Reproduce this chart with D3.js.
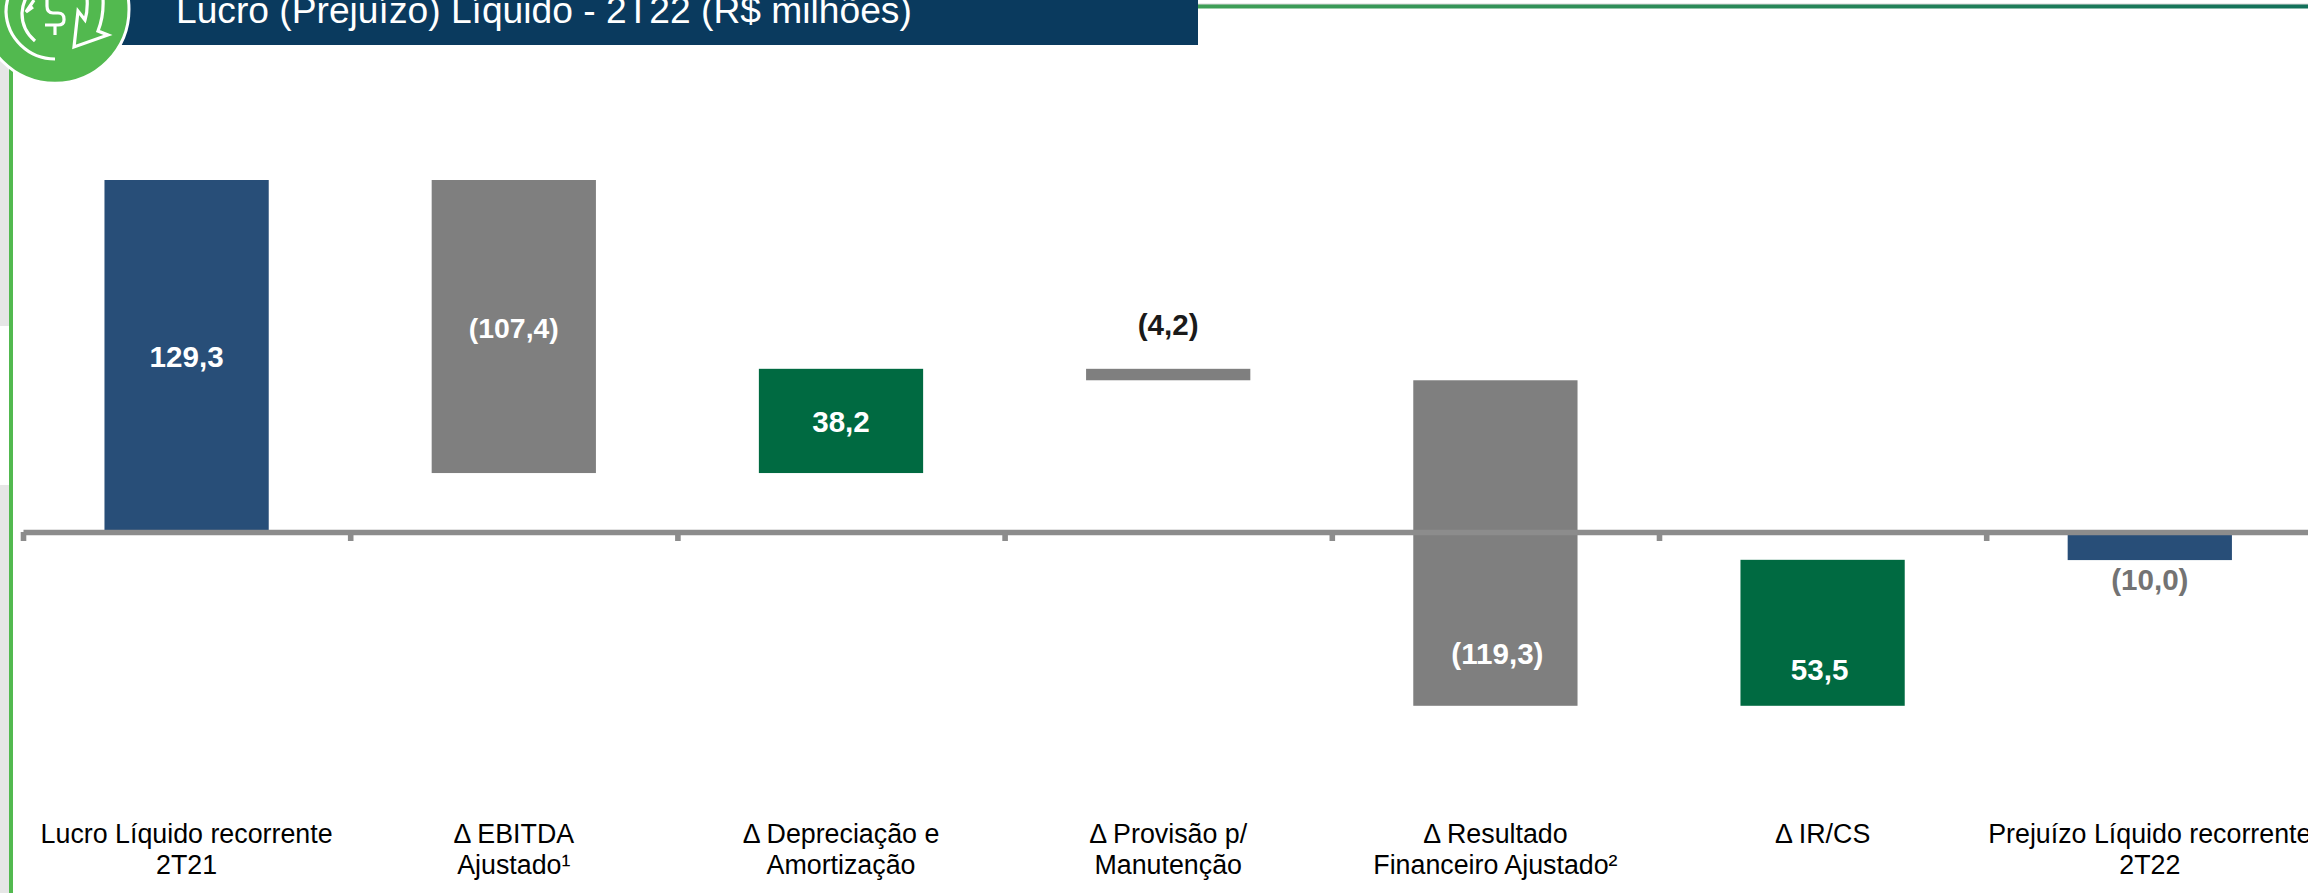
<!DOCTYPE html>
<html>
<head>
<meta charset="utf-8">
<script src="https://cdn.jsdelivr.net/npm/d3@7"></script>
<style>
  html, body { margin: 0; padding: 0; background: #fff; overflow: hidden; }
  svg { display: block; font-family: "Liberation Sans", Arial, sans-serif; }
</style>
</head>
<body>
<div id="chart"></div>
<script>
const titleText = "Lucro (Prejuízo) Líquido - 2T22 (R$ milhões)";

// two lines per category label
const categories = [
    ["Lucro Líquido recorrente", "2T21"],
    ["Δ EBITDA", "Ajustado¹"],
    ["Δ Depreciação e", "Amortização"],
    ["Δ Provisão p/", "Manutenção"],
    ["Δ Resultado", "Financeiro Ajustado²"],
    ["Δ IR/CS", ""],
    ["Prejuízo Líquido recorrente", "2T22"]
];
const deltas = [129.3, -107.4, 38.2, -4.2, -119.3, 53.5, -10.0];
const valueLabels = ["129,3", "(107,4)", "38,2", "(4,2)", "(119,3)", "53,5", "(10,0)"];
const kinds = ["total", "down", "up", "down", "down", "up", "total"];

const width = 2308;
const height = 893;
const colors = { total: "#284e78", down: "#7f7f7f", up: "#006a41" };

// running total for the floating bars, first and last start from zero
let running = 0;
const bars = deltas.map((d, i) => {
    const start = kinds[i] === "total" ? 0 : running;
    const end = start + d;
    running = end;
    return { i, low: Math.min(start, end), high: Math.max(start, end), label: valueLabels[i], kind: kinds[i] };
});

const svg = d3.select("#chart").append("svg")
    .attr("width", width)
    .attr("height", height);

const x = d3.scaleBand()
    .domain(d3.range(categories.length))
    .range([23, 23 + 327.2 * 7])
    .paddingInner(0.498)
    .paddingOuter(0.249);

const y = d3.scaleLinear()
    .domain([0, 129.3])
    .range([532.8, 180]);

// page frame
svg.append("rect").attr("x", 0).attr("y", 60).attr("width", 9).attr("height", 266).attr("fill", "#e6e6e6");
svg.append("rect").attr("x", 0).attr("y", 485).attr("width", 9).attr("height", height - 485).attr("fill", "#e6e6e6");
svg.append("rect").attr("x", 9).attr("y", 60).attr("width", 4).attr("height", height - 60).attr("fill", "#52b94f");

const lineGrad = svg.append("defs").append("linearGradient").attr("id", "topLine");
lineGrad.append("stop").attr("offset", "0%").attr("stop-color", "#3f9f57");
lineGrad.append("stop").attr("offset", "100%").attr("stop-color", "#12705a");
svg.append("rect").attr("x", 1198).attr("y", 3.5).attr("width", width - 1198).attr("height", 1.5).attr("fill", "#d9d9d9");
svg.append("rect").attr("x", 1198).attr("y", 4.5).attr("width", width - 1198).attr("height", 4).attr("fill", "url(#topLine)");

svg.append("rect").attr("x", 120).attr("y", 0).attr("width", 1078).attr("height", 45).attr("fill", "#0a3a5e");
svg.append("text")
    .attr("x", 176).attr("y", 23)
    .attr("font-size", 37.2)
    .attr("fill", "#fff")
    .text(titleText);

// icon, arrows and dollar sign as plain strokes
const icon = svg.append("g");
icon.append("circle").attr("cx", 55).attr("cy", 9.2).attr("r", 74).attr("fill", "#52b94f").attr("stroke", "#fff").attr("stroke-width", 3);
const iconPaths = [
    "M55,59 A49,49 0 0 1 6,12 A49,49 0 0 1 8,-2",
    "M35,41 A36,36 0 0 1 22,13 A36,36 0 0 1 26,-2",
    "M34,0 L26,12 L33,7",
    "M47,-2 V6 Q47,13 53,13 H58 Q64,13 64,19 V20 Q64,25 58,25 H45",
    "M55,25 V35",
    "M103,-2 Q104,16 98,31 L108,35 L74,47 L78,11 L85,20 Q88,10 87,-2"
];
icon.selectAll("path")
    .data(iconPaths)
    .enter().append("path")
    .attr("d", d => d)
    .attr("fill", "none")
    .attr("stroke", "#fff")
    .attr("stroke-width", 3.2);

// bars
svg.append("g").selectAll("rect")
    .data(bars)
    .enter().append("rect")
    .attr("x", d => x(d.i))
    .attr("width", x.bandwidth())
    .attr("y", d => y(d.high))
    .attr("height", d => y(d.low) - y(d.high))
    .attr("fill", d => colors[d.kind]);

// axis line with ticks on the band edges
const edges = d3.scaleLinear().domain([0, 7]).range([23, 23 + 327.2 * 7]);
const axis = svg.append("g")
    .attr("transform", "translate(0,532)")
    .call(d3.axisBottom(edges).tickValues(d3.range(8)).tickSize(9).tickSizeOuter(0).tickFormat(""));
axis.selectAll("path,line").attr("stroke", "#8c8c8c").attr("stroke-width", 5.6);

// value labels, a few sit off centre in the original
const labelShift = { 4: 2, 5: -3 };
svg.append("g").selectAll("text")
    .data(bars)
    .enter().append("text")
    .attr("x", d => x(d.i) + x.bandwidth() / 2 + (labelShift[d.i] || 0))
    .attr("y", d => {
        if (d.i === 3) return y(d.high) - 34;
        if (d.i === 6) return y(d.low) + 30;
        if (d.i === 4) return y(d.low) - 42;
        if (d.i === 5) return y(d.low) - 26;
        return (y(d.high) + y(d.low)) / 2 + 11;
    })
    .attr("text-anchor", "middle")
    .attr("font-size", d => d.i === 1 ? 28.4 : 29.6)
    .attr("font-weight", "bold")
    .attr("fill", d => d.i === 3 ? "#1a1a1a" : d.i === 6 ? "#737373" : "#fff")
    .text(d => d.label);

// category labels through a band axis
const catAxis = svg.append("g")
    .attr("transform", "translate(0,843)")
    .call(d3.axisBottom(x).tickSize(0).tickFormat(""));
catAxis.select("path").remove();
catAxis.selectAll(".tick").each(function (i) {
    const t = d3.select(this).append("text")
        .attr("text-anchor", "middle")
        .attr("font-size", 26.8)
        .attr("fill", "#000");
    categories[i].forEach((line, n) => {
        t.append("tspan").attr("x", 0).attr("y", n * 31).text(line);
    });
});
</script>
</body>
</html>
